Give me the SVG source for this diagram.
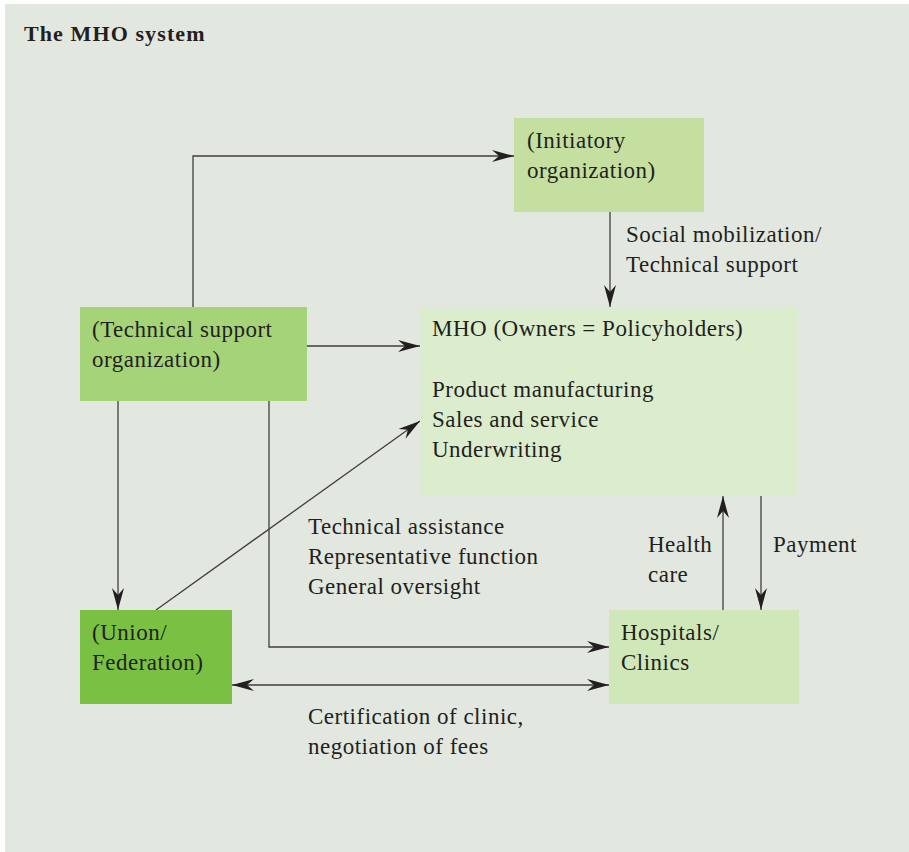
<svg xmlns="http://www.w3.org/2000/svg" width="909" height="852" viewBox="0 0 909 852">
<style>
text{font-family:"Liberation Serif","DejaVu Serif",serif;font-size:23px;letter-spacing:0.5px;fill:#231f20}
.title{font-weight:bold;font-size:22px;letter-spacing:1.1px}
.ln{stroke:#3f3f3f;stroke-width:1.3;fill:none}
</style>
<defs>
<marker id="ah" viewBox="-22 -6 22 12" refX="0" refY="0" markerWidth="22" markerHeight="12" markerUnits="userSpaceOnUse" orient="auto-start-reverse">
<path d="M0,0 L-22,-6 L-15,0 L-22,6 Z" fill="#231f20"/>
</marker>
</defs>
<rect x="0" y="0" width="909" height="852" fill="#ffffff"/>
<rect x="5" y="4" width="904" height="848" fill="#e2e7df"/>
<text class="title" x="24" y="41">The MHO system</text>
<g id="connectors">
<path class="ln" d="M193,307 V156 H514" marker-end="url(#ah)"/>
<path class="ln" d="M610,212 V307" marker-end="url(#ah)"/>
<path class="ln" d="M307,346 H420" marker-end="url(#ah)"/>
<path class="ln" d="M118,401 V610" marker-end="url(#ah)"/>
<path class="ln" d="M269,401 V647 H609" marker-end="url(#ah)"/>
<path class="ln" d="M156,610 L420,421" marker-end="url(#ah)"/>
<path class="ln" d="M232,685 H609" marker-start="url(#ah)" marker-end="url(#ah)"/>
<path class="ln" d="M723,610 V496" marker-end="url(#ah)"/>
<path class="ln" d="M761,496 V610" marker-end="url(#ah)"/>
</g>
<g id="initiatory">
<rect x="514" y="118" width="190" height="94" fill="#c4df9f"/>
<text x="527" y="148">(Initiatory</text>
<text x="527" y="178">organization)</text>
</g>
<g id="techsupport">
<rect x="80" y="307" width="227" height="94" fill="#a5d378"/>
<text x="92" y="337">(Technical support</text>
<text x="92" y="367">organization)</text>
</g>
<g id="mho">
<rect x="420" y="307" width="377" height="189" fill="#dcedcd"/>
<text x="432" y="336">MHO (Owners = Policyholders)</text>
<text x="432" y="397">Product manufacturing</text>
<text x="432" y="427">Sales and service</text>
<text x="432" y="457">Underwriting</text>
</g>
<g id="union">
<rect x="80" y="610" width="152" height="94" fill="#7ac143"/>
<text x="92" y="640">(Union/</text>
<text x="92" y="670">Federation)</text>
</g>
<g id="hospitals">
<rect x="609" y="610" width="190" height="94" fill="#d0e8b9"/>
<text x="621" y="640">Hospitals/</text>
<text x="621" y="670">Clinics</text>
</g>
<g id="labels">
<text x="626" y="242">Social mobilization/</text>
<text x="626" y="272">Technical support</text>
<text x="308" y="534">Technical assistance</text>
<text x="308" y="564">Representative function</text>
<text x="308" y="594">General oversight</text>
<text x="648" y="552">Health</text>
<text x="648" y="582">care</text>
<text x="773" y="552">Payment</text>
<text x="308" y="724">Certification of clinic,</text>
<text x="308" y="754">negotiation of fees</text>
</g>
</svg>
